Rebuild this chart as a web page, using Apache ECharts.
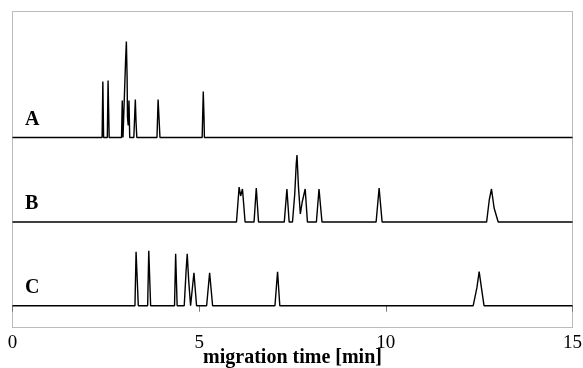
<!DOCTYPE html>
<html>
<head>
<meta charset="utf-8">
<script src="https://cdn.jsdelivr.net/npm/echarts@6/dist/echarts.min.js"></script>
<style>
  html, body { margin: 0; padding: 0; background: #fff; }
  #chart { width: 583px; height: 368px; }
</style>
</head>
<body>
<div id="chart"></div>
<script>
// migration time axis [min]
const xMin = 0;
const xMax = 15;
const xStep = 5;
const panelNames = ['A', 'B', 'C'];

// trace A: time [min] and detector signal (arbitrary units)
const aTime = [0, 2.40, 2.42, 2.44, 2.54, 2.56, 2.58, 2.59, 2.92, 2.94, 2.96, 3.01, 3.03, 3.05, 3.07, 3.08, 3.10, 3.12, 3.14,
  3.25, 3.29, 3.31, 3.33, 3.87, 3.90, 3.92, 3.95, 5.08, 5.11, 5.13, 5.14, 15];
const aSignal = [0, 0, 56, 0, 0, 57, 18, 0, 0, 37, 0, 0, 78, 96, 60, 20, 12, 37, 0,
  0, 38, 15, 0, 0, 38, 39, 0, 0, 46, 20, 0, 0];

// trace B
const bTime = [0, 6.00, 6.07, 6.11, 6.16, 6.23, 6.47, 6.53, 6.59, 7.28, 7.35, 7.41,
  7.50, 7.56, 7.60, 7.62, 7.66, 7.71, 7.76, 7.84, 7.90, 8.14, 8.21, 8.29,
  9.74, 9.82, 9.90, 12.70, 12.77, 12.83, 12.90, 13.01, 15];
const bSignal = [0, 0, 35, 26, 33, 0, 0, 34, 0, 0, 33, 0,
  0, 28, 58, 67, 35, 8, 20, 33, 0, 0, 33, 0,
  0, 34, 0, 0, 22, 33, 14, 0, 0];

// trace C
const cTime = [0, 3.28, 3.31, 3.33, 3.37, 3.62, 3.65, 3.66, 3.70, 4.34, 4.37, 4.41,
  4.60, 4.65, 4.68, 4.72, 4.77, 4.82, 4.86, 4.93, 5.20, 5.28, 5.36,
  7.03, 7.10, 7.16, 12.34, 12.44, 12.50, 12.56, 12.63, 15];
const cSignal = [0, 0, 54, 55, 0, 0, 55, 56, 0, 0, 52, 0,
  0, 35, 52, 25, 0, 0, 33, 0, 0, 33, 0,
  0, 34, 0, 0, 18, 34, 18, 0, 0];

const traces = [[aTime, aSignal], [bTime, bSignal], [cTime, cSignal]];

// panel layout (px): top of each panel and its height
const panelTop = [11.5, 137.5, 222];
const panelHeight = [126, 84.5, 83.7];
const serif = '"Liberation Serif", "DejaVu Serif", serif';

const chart = echarts.init(document.getElementById('chart'), null, { renderer: 'canvas' });

const option = {
  animation: false,
  grid: panelTop.map((top, i) => ({
    left: 12.5,
    right: 10.5,
    top: top,
    height: panelHeight[i],
    containLabel: false,
    outerBoundsMode: 'none',
  })),
  xAxis: panelTop.map((_, i) => {
    const last = i === panelTop.length - 1;
    return {
      type: 'value',
      gridIndex: i,
      min: xMin,
      max: xMax,
      interval: xStep,
      axisLine: { show: false },
      splitLine: { show: false },
      axisTick: {
        show: last,
        inside: false,
        length: 6,
        lineStyle: { color: '#777', width: 1 },
      },
      axisLabel: {
        show: last,
        margin: 28,
        color: '#000',
        fontFamily: serif,
        fontSize: 19,
      },
      name: last ? 'migration time [min]' : '',
      nameLocation: 'middle',
      nameGap: 42,
      nameMoveOverlap: false,
      nameTextStyle: {
        color: '#000',
        fontFamily: serif,
        fontSize: 20,
        fontWeight: 'bold',
      },
    };
  }),
  yAxis: panelTop.map((_, i) => ({
    type: 'value',
    gridIndex: i,
    min: 0,
    max: panelHeight[i],
    show: false,
  })),
  series: traces.map(([time, signal], i) => ({
    name: panelNames[i],
    type: 'line',
    xAxisIndex: i,
    yAxisIndex: i,
    showSymbol: false,
    clip: false,
    lineStyle: { color: '#000', width: 1.4 },
    data: time.map((t, k) => [t, signal[k]]),
  })),
  graphic: [
    {
      type: 'rect',
      silent: true,
      shape: { x: 12.5, y: 11.5, width: 560, height: 316 },
      style: { fill: 'none', stroke: '#777', lineWidth: 1, lineDash: [1, 1] },
    },
  ].concat(panelNames.map((name, i) => ({
    type: 'text',
    left: 25,
    top: panelTop[i] + panelHeight[i] - 28,
    style: {
      text: name,
      fill: '#000',
      font: 'bold 20px ' + serif,
    },
  }))),
};

chart.setOption(option);
</script>
</body>
</html>
